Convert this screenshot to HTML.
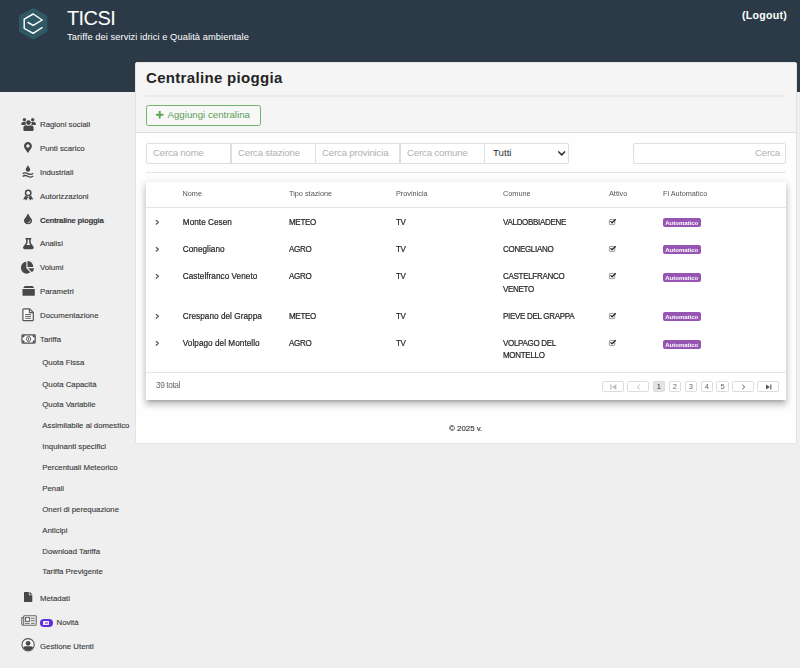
<!DOCTYPE html>
<html><head><meta charset="utf-8">
<style>
*{box-sizing:border-box;margin:0;padding:0}
html,body{width:800px;height:668px;overflow:hidden}
body{background:#efefef;font-family:"Liberation Sans",sans-serif;color:#2b2b2b;position:relative;font-size:8px}
.a{position:absolute}
.t{position:absolute;white-space:nowrap;line-height:12px;height:12px}
#hdr{left:0;top:0;width:800px;height:92px;background:#2c3a47}
#panel{left:135px;top:62px;width:662px;height:382px;background:#fefefe;border:1px solid #e3e3e3;border-radius:2px}
#phead{left:0;top:0;width:660px;height:70px;background:#f5f5f5;border-bottom:1px solid #dfdfdf}
.mi{color:#3a3a3a;font-size:7.8px;left:40px;-webkit-text-stroke:.12px #3a3a3a}
.si{color:#3a3a3a;font-size:7.8px;left:42.3px;-webkit-text-stroke:.12px #3a3a3a}
svg{position:absolute;overflow:visible}
.ic{fill:#484848}
.inp{position:absolute;top:143px;height:21px;background:#fff;border:1px solid #d9dee7;border-radius:2px}
.dv{top:143px;width:1.5px;height:21px;background:#d9dee7}
.ph{color:#b0b0b0;font-size:9.6px;letter-spacing:-.15px}
#card{left:146px;top:182px;width:640px;height:218px;background:#fff;box-shadow:0 3px 3px -2px rgba(0,0,0,.22),0 5px 6px .6px rgba(0,0,0,.14),0 2px 8px 1px rgba(0,0,0,.12)}
.th{font-size:7.3px;color:#555}
.td{font-size:8px;color:#262626;-webkit-text-stroke:.2px #262626;transform:scaleY(1.07);transform-origin:0 73%}
.up{letter-spacing:-0.3px}
.bdg{position:absolute;left:662.5px;width:38.5px;height:9px;border-radius:2px;background:#9755b3;color:#fff;font-size:6px;font-weight:bold;line-height:10px;text-align:center}
.pg{position:absolute;top:381px;height:11px;border:1px solid #dcdcdc;border-radius:1.5px;background:#fff;font-size:7.5px;line-height:9px;text-align:center;color:#666}
.chk{left:609px}
.chv{left:155px}
</style></head><body>
<div id="hdr" class="a"></div>

<!-- logo -->
<svg style="left:18px;top:7px" width="30" height="33" viewBox="18 7 30 33">
<polygon points="33.2,8.6 46.6,16.2 46.6,31.4 33.2,39 19.8,31.4 19.8,16.2" fill="#2f5964" stroke="#2f5964" stroke-width="1.4" stroke-linejoin="round"/>
<path d="M28 22.5 L33.2 25.4 L42.2 20 L33.2 14 L24.2 19.1 L24.2 28.4 L33.2 33.3 L42 27.7" fill="none" stroke="#fff" stroke-width="1.45" stroke-linejoin="round" stroke-linecap="round"/>
</svg>
<div class="t" style="left:67px;top:6px;font-size:20px;line-height:24px;height:24px;color:#fff;letter-spacing:-0.6px">TICSI</div>
<div class="t" style="left:67px;top:31px;font-size:9.3px;color:#fff;letter-spacing:.07px">Tariffe dei servizi idrici e Qualità ambientale</div>
<div class="t" style="left:742px;top:9.4px;font-size:10.6px;font-weight:bold;color:#fff;letter-spacing:.25px">(Logout)</div>

<!-- sidebar -->
<div class="t mi" style="top:119px">Ragioni sociali</div>
<div class="t mi" style="top:143px">Punti scarico</div>
<div class="t mi" style="top:166.6px">Industriali</div>
<div class="t mi" style="top:190.5px">Autorizzazioni</div>
<div class="t mi" style="top:214.5px;font-weight:bold;letter-spacing:-.25px">Centraline pioggia</div>
<div class="t mi" style="top:238px">Analisi</div>
<div class="t mi" style="top:262px">Volumi</div>
<div class="t mi" style="top:286px">Parametri</div>
<div class="t mi" style="top:310px">Documentazione</div>
<div class="t mi" style="top:333.6px">Tariffa</div>
<div class="t si" style="top:357px">Quota Fissa</div>
<div class="t si" style="top:378.6px">Quota Capacità</div>
<div class="t si" style="top:399px">Quota Variabile</div>
<div class="t si" style="top:420px">Assimilabile al domestico</div>
<div class="t si" style="top:441px">Inquinanti specifici</div>
<div class="t si" style="top:462px">Percentuali Meteorico</div>
<div class="t si" style="top:483px">Penali</div>
<div class="t si" style="top:504px">Oneri di perequazione</div>
<div class="t si" style="top:525px">Anticipi</div>
<div class="t si" style="top:546px">Download Tariffa</div>
<div class="t si" style="top:566.3px">Tariffa Previgente</div>
<div class="t mi" style="top:592.8px">Metadati</div>
<div class="t mi" style="top:616.6px;left:56.5px">Novità</div>
<div class="t mi" style="top:640.6px">Gestione Utenti</div>

<!-- sidebar icons -->
<!-- users -->
<svg class="ic" style="left:21px;top:117px" width="15" height="15" viewBox="21 117 15 15">
<circle cx="24.4" cy="119.8" r="1.7"/><circle cx="32.7" cy="119.8" r="1.7"/>
<path d="M21.4 125 V123.6 Q21.4 122 23 122 H25.2 Q25.7 122 26 122.3 Q25.3 123.6 25.6 125Z"/>
<path d="M35.8 125 V123.6 Q35.8 122 34.2 122 H32 Q31.5 122 31.2 122.3 Q31.9 123.6 31.6 125Z"/>
<circle cx="28.5" cy="122.6" r="2.35"/>
<path d="M23.4 130.1 V127.8 Q23.4 125.3 25.9 125.3 H26.4 Q28.5 126.3 30.6 125.3 H31.1 Q33.6 125.3 33.6 127.8 V130.1 Q33.6 131 32.7 131 H24.3 Q23.4 131 23.4 130.1Z"/>
</svg>
<!-- map marker -->
<svg class="ic" style="left:24.3px;top:142px" width="7.9" height="10.8" viewBox="0 0 384 512" preserveAspectRatio="none"><path d="M172.268 501.67C26.97 291.031 0 269.413 0 192 0 85.961 85.961 0 192 0s192 85.961 192 192c0 77.413-26.97 99.031-172.268 309.67-9.535 13.774-29.93 13.773-39.464 0zM192 272c44.183 0 80-35.817 80-80s-35.817-80-80-80-80 35.817-80 80 35.817 80 80 80z"/></svg>
<!-- water -->
<svg class="ic" style="left:22px;top:165px" width="12" height="13" viewBox="22 165 12 13">
<path d="M27.95 165 C28.6 167 30.2 168.3 30.2 169.6 A2.25 2.25 0 0 1 25.7 169.6 C25.7 168.3 27.3 167 27.95 165Z"/>
<path d="M22.7 173.7 C24.4 172.3 26 172.6 27.8 173.6 S31.4 174.7 33.1 173.3" fill="none" stroke="#484848" stroke-width="1.3"/>
<path d="M22.7 176.4 C24.4 175 26 175.3 27.8 176.3 S31.4 177.4 33.1 176" fill="none" stroke="#484848" stroke-width="1.3"/>
</svg>
<!-- award -->
<svg class="ic" style="left:23px;top:189px" width="11" height="12" viewBox="23 189 11 12">
<circle cx="28.2" cy="192.9" r="2.7" fill="none" stroke="#484848" stroke-width="1.5"/>
<path d="M25.2 195.7 L23.1 199.5 L25.2 199.3 L26.3 200.6 L28.15 196.9Z M31.2 195.7 L33.3 199.5 L31.2 199.3 L30.1 200.6 L28.25 196.9Z"/>
</svg>
<!-- tint -->
<svg class="ic" style="left:24.1px;top:214.1px" width="8.1" height="10.2" viewBox="0 0 352 512" preserveAspectRatio="none"><path d="M205.22 22.09c-7.94-28.78-49.44-30.12-58.44 0C100.01 179.85 0 222.72 0 333.91 0 432.35 78.72 512 176 512s176-79.65 176-178.09c0-111.75-99.79-153.34-146.78-311.82zM176 448c-8.84 0-16-7.16-16-16s7.16-16 16-16c44.11 0 80-35.89 80-80 0-8.84 7.16-16 16-16s16 7.16 16 16c0 61.75-50.25 112-112 112z"/></svg>
<!-- flask -->
<svg class="ic" style="left:22.8px;top:237.7px" width="10.8" height="11.2" viewBox="0 0 448 512" preserveAspectRatio="none"><path d="M437.2 403.5L320 215V64h8c13.3 0 24-10.7 24-24V24c0-13.3-10.7-24-24-24H120c-13.3 0-24 10.7-24 24v16c0 13.3 10.7 24 24 24h8v151L10.8 403.5C-18.5 450.6 15.3 512 70.9 512h306.2c55.7 0 89.4-61.5 60.1-108.5zM137.9 320l48.2-77.6c3.7-5.2 5.8-11.6 5.8-18.4V64h64v160c0 6.9 2.2 13.2 5.8 18.4l48.2 77.6h-172z"/></svg>
<!-- pie -->
<svg class="ic" style="left:21.4px;top:260.5px" width="13" height="12.7" viewBox="0 0 544 512" preserveAspectRatio="none"><path d="M527.79 288H290.5l158.03 158.03c6.04 6.04 15.98 6.53 22.19.68 38.7-36.46 65.32-85.61 73.13-140.86 1.34-9.46-6.51-17.85-16.06-17.85zm-15.83-64.8C503.72 103.74 408.26 8.28 288.8.04 279.68-.59 272 7.1 272 16.24V240h223.77c9.14 0 16.82-7.68 16.19-16.8zM224 288V50.71c0-9.55-8.39-17.4-17.84-16.06C86.99 51.49-4.1 155.6.14 280.37 4.5 408.51 114.83 513.59 243.03 511.98c50.4-.63 96.97-16.87 135.26-44.03 7.9-5.6 8.42-17.23 1.57-24.08L224 288z"/></svg>
<!-- box -->
<svg class="ic" style="left:21.5px;top:285px" width="13" height="11" viewBox="21.5 285 13 11">
<path d="M24.3 285.9 H32.2 L33.7 288.1 H22.7Z"/><rect x="22" y="288.9" width="12.3" height="6.9" rx=".6"/>
</svg>
<!-- file-alt regular -->
<svg style="left:22px;top:308px" width="12.5" height="13.5" viewBox="22 308 12.5 13.5">
<path d="M23.7 308.9 H29.6 L33.3 312.5 V319.7 Q33.3 320.6 32.4 320.6 H23.7 Q22.9 320.6 22.9 319.7 V309.8 Q22.9 308.9 23.7 308.9Z" fill="#fbfbfb" stroke="#555" stroke-width="1.2" stroke-linejoin="round"/>
<path d="M29.4 309 V312.6 H33.2" fill="none" stroke="#555" stroke-width="1.1"/>
<path d="M25.2 314.5 H31.1 M25.2 316.4 H31.1 M25.2 318.3 H31.1" stroke="#555" stroke-width=".9"/>
</svg>
<!-- money bill alt -->
<svg style="left:21px;top:334px" width="15" height="10" viewBox="21 334 15 10">
<rect x="22" y="334.8" width="13.2" height="8.3" rx=".8" fill="#fbfbfb" stroke="#505050" stroke-width="1.2"/>
<path d="M22.5 335.3 h2.3 a2.3 2.3 0 0 1 -2.3 2.3Z M34.7 335.3 v2.3 a2.3 2.3 0 0 1 -2.3 -2.3Z M22.5 342.6 v-2.3 a2.3 2.3 0 0 1 2.3 2.3Z M34.7 342.6 h-2.3 a2.3 2.3 0 0 1 2.3 -2.3Z" fill="#444"/>
<ellipse cx="28.6" cy="338.95" rx="2.1" ry="2.6" fill="none" stroke="#505050" stroke-width=".9"/>
<rect x="28.25" y="337.5" width=".8" height="2.9" fill="#333"/>
</svg>
<!-- file solid -->
<svg class="ic" style="left:23.9px;top:591.8px" width="8.3" height="10.1" viewBox="0 0 384 512" preserveAspectRatio="none"><path d="M224 136V0H24C10.7 0 0 10.7 0 24v464c0 13.3 10.7 24 24 24h336c13.3 0 24-10.7 24-24V160H248c-13.2 0-24-10.8-24-24zm160-14.1v6.1H256V0h6.1c6.4 0 12.5 2.5 17 7l97.9 98c4.5 4.5 7 10.6 7 16.9z"/></svg>
<!-- newspaper -->
<svg style="left:21px;top:615px" width="16" height="11" viewBox="21 615 16 11">
<path d="M23.6 615.8 H35.4 Q36.2 615.8 36.2 616.6 V624.4 Q36.2 625.2 35.4 625.2 H22.9 Q21.8 625.2 21.8 624.1 V617.6 H23.6" fill="#f7f7f7" stroke="#666" stroke-width="1.1" stroke-linejoin="round"/>
<path d="M23.7 616 V624.8" stroke="#666" stroke-width="1"/>
<rect x="25.4" y="617.7" width="4.3" height="3.6" fill="#fff" stroke="#555" stroke-width="1"/>
<path d="M31 618.3 H34.7 M31 620.7 H34.7 M25 623.3 H29.8 M31 623.3 H34.7" stroke="#666" stroke-width="1"/>
</svg>
<!-- badge -->
<div class="a" style="left:40px;top:619.2px;width:12.7px;height:8px;border-radius:4px;background:#5b2fe0"></div>
<div class="a" style="left:43.2px;top:621.2px;width:6.3px;height:3.6px;background:#f3ecfa"></div>
<div class="a" style="left:45px;top:622.2px;width:3px;height:1.5px;background:#b98ad8"></div>
<!-- user circle -->
<svg style="left:21px;top:638px" width="14" height="14" viewBox="21 638 14 14">
<defs><clipPath id="uc"><circle cx="28.1" cy="644.75" r="5.8"/></clipPath></defs>
<circle cx="28.1" cy="644.75" r="6.15" fill="#f6f6f6" stroke="#555" stroke-width="1.1"/>
<circle cx="28.1" cy="643.3" r="2.35" fill="#484848"/>
<path d="M23 652 V648.4 Q23 646.3 25.3 646.3 H30.9 Q33.2 646.3 33.2 648.4 V652Z" fill="#484848" clip-path="url(#uc)"/>
</svg>

<!-- panel -->
<div id="panel" class="a"><div id="phead" class="a"></div></div>
<div class="t" style="left:146px;top:68px;font-size:15px;line-height:20px;height:20px;font-weight:bold;color:#242424;letter-spacing:.32px">Centraline pioggia</div>
<div class="a" style="left:146px;top:95px;width:640px;height:2px;background:#eaeaea"></div>
<div class="a" style="left:146px;top:105px;width:115px;height:21px;border:1px solid #72b56a;border-radius:2.5px;background:#f8f8f8"></div>
<svg style="left:156.4px;top:111px" width="7.4" height="7.4" viewBox="0 0 10 10"><path d="M3.7 0h2.6v3.7H10v2.6H6.3V10H3.7V6.3H0V3.7h3.7z" fill="#5fa457"/></svg>
<div class="t" style="left:167.5px;top:109px;font-size:9.7px;color:#5c9f55">Aggiungi centralina</div>

<div class="inp" style="left:146px;width:423px;border-radius:2px"></div>
<div class="a dv" style="left:230px"></div><div class="a dv" style="left:314.5px"></div><div class="a dv" style="left:399px"></div><div class="a dv" style="left:483.5px"></div>
<div class="inp" style="left:633px;width:153px"></div>
<div class="t ph" style="left:153px;top:147.4px">Cerca nome</div>
<div class="t ph" style="left:238px;top:147.4px">Cerca stazione</div>
<div class="t ph" style="left:322px;top:147.4px">Cerca provinicia</div>
<div class="t ph" style="left:407px;top:147.4px">Cerca comune</div>
<div class="t" style="left:493px;top:147.4px;font-size:9.7px;color:#2e2e2e">Tutti</div>
<svg style="left:557.8px;top:151.4px" width="7.4" height="5.1" viewBox="0 0 8 5.5"><path d="M.9 1 L4 4.2 L7.1 1" fill="none" stroke="#333" stroke-width="1.7" stroke-linecap="round" stroke-linejoin="round"/></svg>
<div class="t ph" style="left:755px;top:147.4px">Cerca</div>
<div class="a" style="left:146px;top:172px;width:640px;height:1px;background:#e3e3e3"></div>

<div class="a" id="cw" style="left:0;top:0;width:800px;height:668px;will-change:transform">
<div id="card" class="a"></div>
<div class="a" style="left:146px;top:207px;width:640px;height:1px;background:#e4e4e4"></div>
<div class="a" style="left:146px;top:372px;width:640px;height:1px;background:#e4e4e4"></div>
<div class="t th" style="left:182.5px;top:187.5px">Nome</div>
<div class="t th" style="left:289px;top:187.5px">Tipo stazione</div>
<div class="t th" style="left:396px;top:187.5px">Provinicia</div>
<div class="t th" style="left:503px;top:187.5px">Comune</div>
<div class="t th" style="left:609px;top:187.5px">Attivo</div>
<div class="t th" style="left:663px;top:187.5px">Fl Automatico</div>

<svg width="0" height="0"><defs>
<g id="chev"><path d="M.9 1.2 L3.4 3.3 L.9 5.4" fill="none" stroke="#5a5a5a" stroke-width="1.3" stroke-linejoin="round"/></g>
<g id="chk"><rect x=".4" y=".5" width="5.4" height="5.1" rx=".6" fill="none" stroke="#777" stroke-width=".7"/><path d="M1.5 2.2 L3.1 3.8 L6.7 .3" fill="none" stroke="#222" stroke-width="1.2"/></g>
</defs></svg>

<!-- row1 -->
<svg style="left:155.3px;top:219px" width="5" height="6"><use href="#chev"/></svg>
<div class="t td" style="left:182.8px;top:216.8px;font-size:8.2px;letter-spacing:.04px">Monte Cesen</div>
<div class="t td up" style="left:289px;top:216.8px">METEO</div>
<div class="t td up" style="left:396px;top:216.8px">TV</div>
<div class="t td up" style="left:503px;top:216.8px">VALDOBBIADENE</div>
<svg style="left:609px;top:219px" width="7" height="6"><use href="#chk"/></svg>
<div class="bdg" style="top:218.2px">Automatico</div>
<!-- row2 -->
<svg style="left:155.3px;top:246.3px" width="5" height="6"><use href="#chev"/></svg>
<div class="t td" style="left:182.8px;top:244.1px;font-size:8.2px;letter-spacing:.04px">Conegliano</div>
<div class="t td up" style="left:289px;top:244.1px">AGRO</div>
<div class="t td up" style="left:396px;top:244.1px">TV</div>
<div class="t td up" style="left:503px;top:244.1px">CONEGLIANO</div>
<svg style="left:609px;top:246.3px" width="7" height="6"><use href="#chk"/></svg>
<div class="bdg" style="top:245.4px">Automatico</div>
<!-- row3 -->
<svg style="left:155.3px;top:273.3px" width="5" height="6"><use href="#chev"/></svg>
<div class="t td" style="left:182.8px;top:271.1px;font-size:8.2px;letter-spacing:.04px">Castelfranco Veneto</div>
<div class="t td up" style="left:289px;top:271.1px">AGRO</div>
<div class="t td up" style="left:396px;top:271.1px">TV</div>
<div class="t td up" style="left:503px;top:271.1px">CASTELFRANCO</div>
<div class="t td up" style="left:503px;top:284.1px">VENETO</div>
<svg style="left:609px;top:273.3px" width="7" height="6"><use href="#chk"/></svg>
<div class="bdg" style="top:272.6px">Automatico</div>
<!-- row4 -->
<svg style="left:155.3px;top:313.3px" width="5" height="6"><use href="#chev"/></svg>
<div class="t td" style="left:182.8px;top:311.1px;font-size:8.2px;letter-spacing:.04px">Crespano del Grappa</div>
<div class="t td up" style="left:289px;top:311.1px">METEO</div>
<div class="t td up" style="left:396px;top:311.1px">TV</div>
<div class="t td up" style="left:503px;top:311.1px">PIEVE DEL GRAPPA</div>
<svg style="left:609px;top:313.3px" width="7" height="6"><use href="#chk"/></svg>
<div class="bdg" style="top:312.3px">Automatico</div>
<!-- row5 -->
<svg style="left:155.3px;top:340.3px" width="5" height="6"><use href="#chev"/></svg>
<div class="t td" style="left:182.8px;top:338.1px;font-size:8.2px;letter-spacing:.04px">Volpago del Montello</div>
<div class="t td up" style="left:289px;top:338.1px">AGRO</div>
<div class="t td up" style="left:396px;top:338.1px">TV</div>
<div class="t td up" style="left:503px;top:338.1px">VOLPAGO DEL</div>
<div class="t td up" style="left:503px;top:349.8px">MONTELLO</div>
<svg style="left:609px;top:340.3px" width="7" height="6"><use href="#chk"/></svg>
<div class="bdg" style="top:340.2px">Automatico</div>

<div class="t" style="left:156px;top:379.4px;font-size:8.4px;letter-spacing:-.45px;color:#6a6a6a">39 total</div>

<!-- pagination -->
<div class="pg" style="left:602px;width:22px"></div>
<div class="pg" style="left:627px;width:22px"></div>
<div class="pg" style="left:652.5px;width:12.5px;background:#e4e4e4;color:#333">1</div>
<div class="pg" style="left:668.5px;width:12.5px">2</div>
<div class="pg" style="left:684.5px;width:12.5px">3</div>
<div class="pg" style="left:700.5px;width:12.5px">4</div>
<div class="pg" style="left:716.3px;width:12.5px">5</div>
<div class="pg" style="left:732px;width:22px"></div>
<div class="pg" style="left:757px;width:22px"></div>
<svg style="left:609.5px;top:383.5px" width="7" height="6" viewBox="0 0 7 6"><rect x=".3" y=".3" width="1.2" height="5.4" fill="#bbb"/><path d="M6.3 .3 V5.7 L2 3Z" fill="#bbb"/></svg>
<svg style="left:635.5px;top:383.5px" width="5" height="6" viewBox="0 0 5 6"><path d="M3.8 .6 L1.2 3 L3.8 5.4" fill="none" stroke="#bbb" stroke-width="1"/></svg>
<svg style="left:740.5px;top:383.5px" width="5" height="6" viewBox="0 0 5 6"><path d="M1.4 .8 L3.7 3 L1.4 5.2" fill="none" stroke="#555" stroke-width="1"/></svg>
<svg style="left:764.5px;top:383.5px" width="7" height="6" viewBox="0 0 7 6"><rect x="5.3" y=".5" width="1.1" height="5" fill="#555"/><path d="M1 .5 V5.5 L4.9 3Z" fill="#555"/></svg>

</div>
<div class="t" style="left:449px;top:422.5px;font-size:7.9px;color:#3a3a3a;-webkit-text-stroke:.15px #3a3a3a">© 2025 v.</div>
</body></html>
